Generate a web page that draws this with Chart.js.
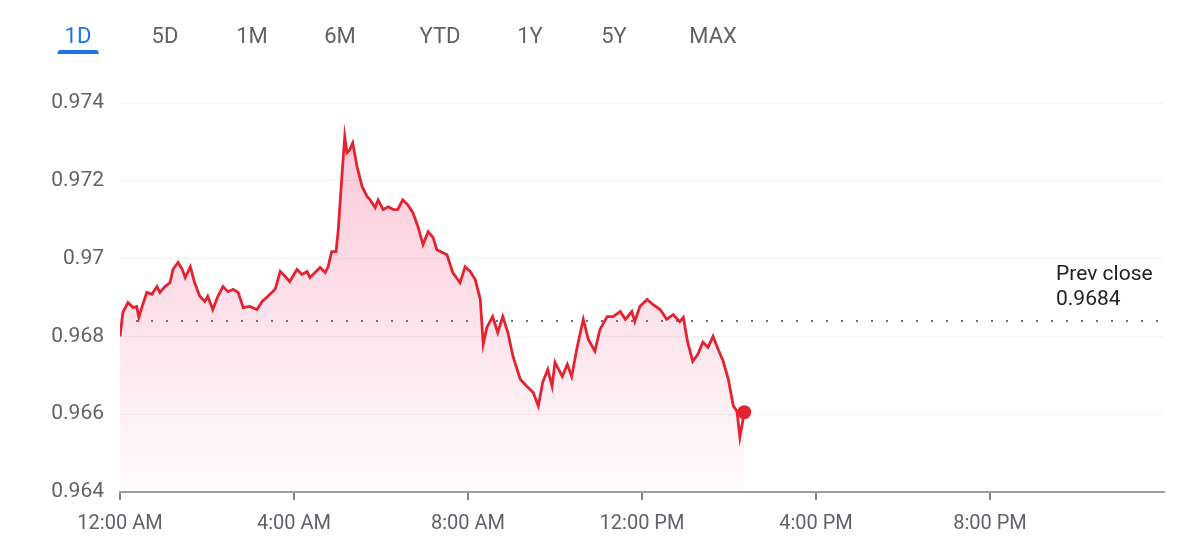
<!DOCTYPE html>
<html>
<head>
<meta charset="utf-8">
<script src="https://cdn.jsdelivr.net/npm/chart.js@4.4.1/dist/chart.umd.min.js"></script>
<style>
  html, body { margin: 0; padding: 0; background: #fff; }
  #wrap { position: relative; width: 1200px; height: 554px; overflow: hidden; font-family: Roboto, Arial, sans-serif; }
  #chart { position: absolute; left: 0; top: 0; }
  .tab { position: absolute; top: 25px; font-size: 22px; line-height: 22px; font-weight: 400; color: #5f6368; transform: translateX(-50%); white-space: nowrap; }
  .tab.active { color: #1a73e8; }
  .tab.active::after { content: ''; position: absolute; left: -7px; right: -7px; top: 25px; height: 4px; background: #1a73e8; border-radius: 3px 3px 0 0; }
</style>
</head>
<body>
<div id="wrap">
  <canvas id="chart" width="1200" height="554"></canvas>
</div>
<script>
// range tabs
const TAB_LABELS = ['1D', '5D', '1M', '6M', 'YTD', '1Y', '5Y', 'MAX'];

// intraday series: minutes after midnight / price
const TIMES = [
  0, 4, 11, 18, 23, 26, 30, 37, 44, 51,
  55, 62, 69, 73, 80, 86, 90, 97, 103, 110,
  117, 121, 128, 135, 142, 149, 156, 163, 170, 179,
  189, 196, 204, 214, 221, 228, 234, 244, 251, 258,
  262, 269, 276, 283, 287, 292, 298, 301, 306, 310,
  313, 317, 321, 327, 334, 341, 345, 352, 356, 363,
  370, 377, 383, 390, 397, 404, 411, 418, 425, 432,
  437, 451, 459, 469, 476, 483, 490, 497, 499, 501,
  506, 514, 521, 528, 535, 542, 552, 561, 570, 577,
  583, 590, 596, 600, 610, 617, 623, 630, 639, 646,
  655, 662, 672, 680, 690, 697, 706, 710, 717, 727,
  735, 745, 754, 763, 772, 777, 783, 790, 797, 804,
  811, 818, 825, 832, 839, 846, 851, 855, 861
];
const PRICES = [
  0.96800, 0.96862, 0.96887, 0.96874, 0.96877, 0.96849, 0.96874, 0.96913, 0.96908, 0.96928,
  0.96913, 0.96928, 0.96938, 0.96972, 0.96990, 0.96972, 0.96951, 0.96979, 0.96938, 0.96903,
  0.96890, 0.96903, 0.96869, 0.96903, 0.96928, 0.96915, 0.96921, 0.96913, 0.96874, 0.96877,
  0.96869, 0.96890, 0.96903, 0.96921, 0.96967, 0.96954, 0.96941, 0.96972, 0.96959, 0.96967,
  0.96951, 0.96964, 0.96977, 0.96964, 0.96979, 0.97018, 0.97018, 0.97074, 0.97210, 0.97313,
  0.97272, 0.97280, 0.97297, 0.97236, 0.97185, 0.97159, 0.97151, 0.97131, 0.97151, 0.97126,
  0.97133, 0.97126, 0.97126, 0.97151, 0.97138, 0.97118, 0.97082, 0.97036, 0.97069, 0.97054,
  0.97023, 0.97010, 0.96964, 0.96938, 0.96979, 0.96967, 0.96946, 0.96895, 0.96836, 0.96780,
  0.96823, 0.96851, 0.96810, 0.96851, 0.96810, 0.96749, 0.96690, 0.96672, 0.96656, 0.96621,
  0.96682, 0.96715, 0.96672, 0.96733, 0.96697, 0.96728, 0.96697, 0.96767, 0.96844, 0.96792,
  0.96762, 0.96818, 0.96851, 0.96851, 0.96864, 0.96844, 0.96864, 0.96838, 0.96877, 0.96895,
  0.96882, 0.96869, 0.96844, 0.96856, 0.96838, 0.96849, 0.96785, 0.96736, 0.96754, 0.96785,
  0.96772, 0.96800, 0.96767, 0.96736, 0.96690, 0.96621, 0.96608, 0.96541, 0.96605
];
const PREV_CLOSE = 0.9684;

const X_TICKS = [0, 240, 480, 720, 960, 1200];
const X_TICK_LABELS = ['12:00 AM', '4:00 AM', '8:00 AM', '12:00 PM', '4:00 PM', '8:00 PM'];
const Y_TICKS = [0.964, 0.966, 0.968, 0.970, 0.972, 0.974];
const Y_TICK_LABELS = ['0.964', '0.966', '0.968', '0.97', '0.972', '0.974'];

const RED = '#e3232f';
const GREY = '#5f6368';

// tabs row (html, above the canvas)
const TAB_CENTERS = [78, 165, 252, 340, 440, 530, 614, 713];
const wrap = document.getElementById('wrap');
TAB_LABELS.forEach((t, i) => {
  const s = document.createElement('span');
  s.className = 'tab' + (i === 0 ? ' active' : '');
  s.style.left = TAB_CENTERS[i] + 'px';
  s.textContent = t;
  wrap.appendChild(s);
});

// dotted previous-close line + its label
const prevClosePlugin = {
  id: 'prevClose',
  beforeDatasetsDraw(chart) {
    const { ctx, chartArea, scales } = chart;
    const y = Math.round(scales.y.getPixelForValue(PREV_CLOSE));
    ctx.save();
    ctx.fillStyle = '#6b6f73';
    for (let x = chartArea.left + 16; x < chartArea.right - 6; x += 15) {
      ctx.fillRect(x, y - 1, 2, 2);
    }
    ctx.font = '21px Roboto, Arial, sans-serif';
    ctx.fillStyle = '#202124';
    ctx.textAlign = 'left';
    ctx.textBaseline = 'middle';
    ctx.fillText('Prev close', 1056, y - 46);
    ctx.fillText(String(PREV_CLOSE), 1056, y - 21);
    ctx.restore();
  }
};

new Chart(document.getElementById('chart'), {
  type: 'line',
  data: {
    datasets: [{
      data: TIMES.map((t, i) => ({ x: t, y: PRICES[i] })),
      borderColor: RED,
      borderWidth: 2.8,
      tension: 0,
      fill: 'start',
      backgroundColor(c) {
        const { ctx, chartArea } = c.chart;
        if (!chartArea) return 'rgba(0,0,0,0)';
        const g = ctx.createLinearGradient(0, chartArea.top, 0, chartArea.bottom);
        g.addColorStop(0, 'rgba(240, 60, 120, 0.30)');
        g.addColorStop(1, 'rgba(240, 60, 120, 0.02)');
        return g;
      },
      pointRadius: (c) => (c.dataIndex === PRICES.length - 1 ? 7 : 0),
      pointBackgroundColor: RED,
      pointBorderWidth: 0,
      pointHoverRadius: 0,
    }],
  },
  options: {
    responsive: false,
    animation: false,
    events: [],
    layout: { padding: { left: 0, right: 36, top: 103, bottom: 0 } },
    plugins: { legend: { display: false }, tooltip: { enabled: false } },
    scales: {
      x: {
        type: 'linear',
        min: 0,
        max: 1440,
        afterBuildTicks: (s) => { s.ticks = X_TICKS.map((v) => ({ value: v })); },
        afterFit: (s) => { s.height = 62; },
        grid: { drawOnChartArea: false, drawTicks: true, tickLength: 8, color: '#80868b', lineWidth: 2 },
        border: { display: true, color: '#9aa0a6', width: 2 },
        ticks: {
          autoSkip: false,
          maxRotation: 0,
          padding: 12,
          color: GREY,
          font: { family: 'Roboto', size: 20 },
          callback: (v, i) => X_TICK_LABELS[i],
        },
      },
      y: {
        min: 0.964,
        max: 0.974,
        afterBuildTicks: (s) => { s.ticks = Y_TICKS.map((v) => ({ value: v })); },
        afterFit: (s) => { s.width = 120; },
        grid: { color: '#f1f3f4', drawTicks: false },
        border: { display: false },
        ticks: {
          padding: 16,
          color: GREY,
          font: { family: 'Roboto', size: 21 },
          callback: (v, i) => Y_TICK_LABELS[i],
        },
      },
    },
  },
  plugins: [prevClosePlugin],
});
</script>
</body>
</html>
